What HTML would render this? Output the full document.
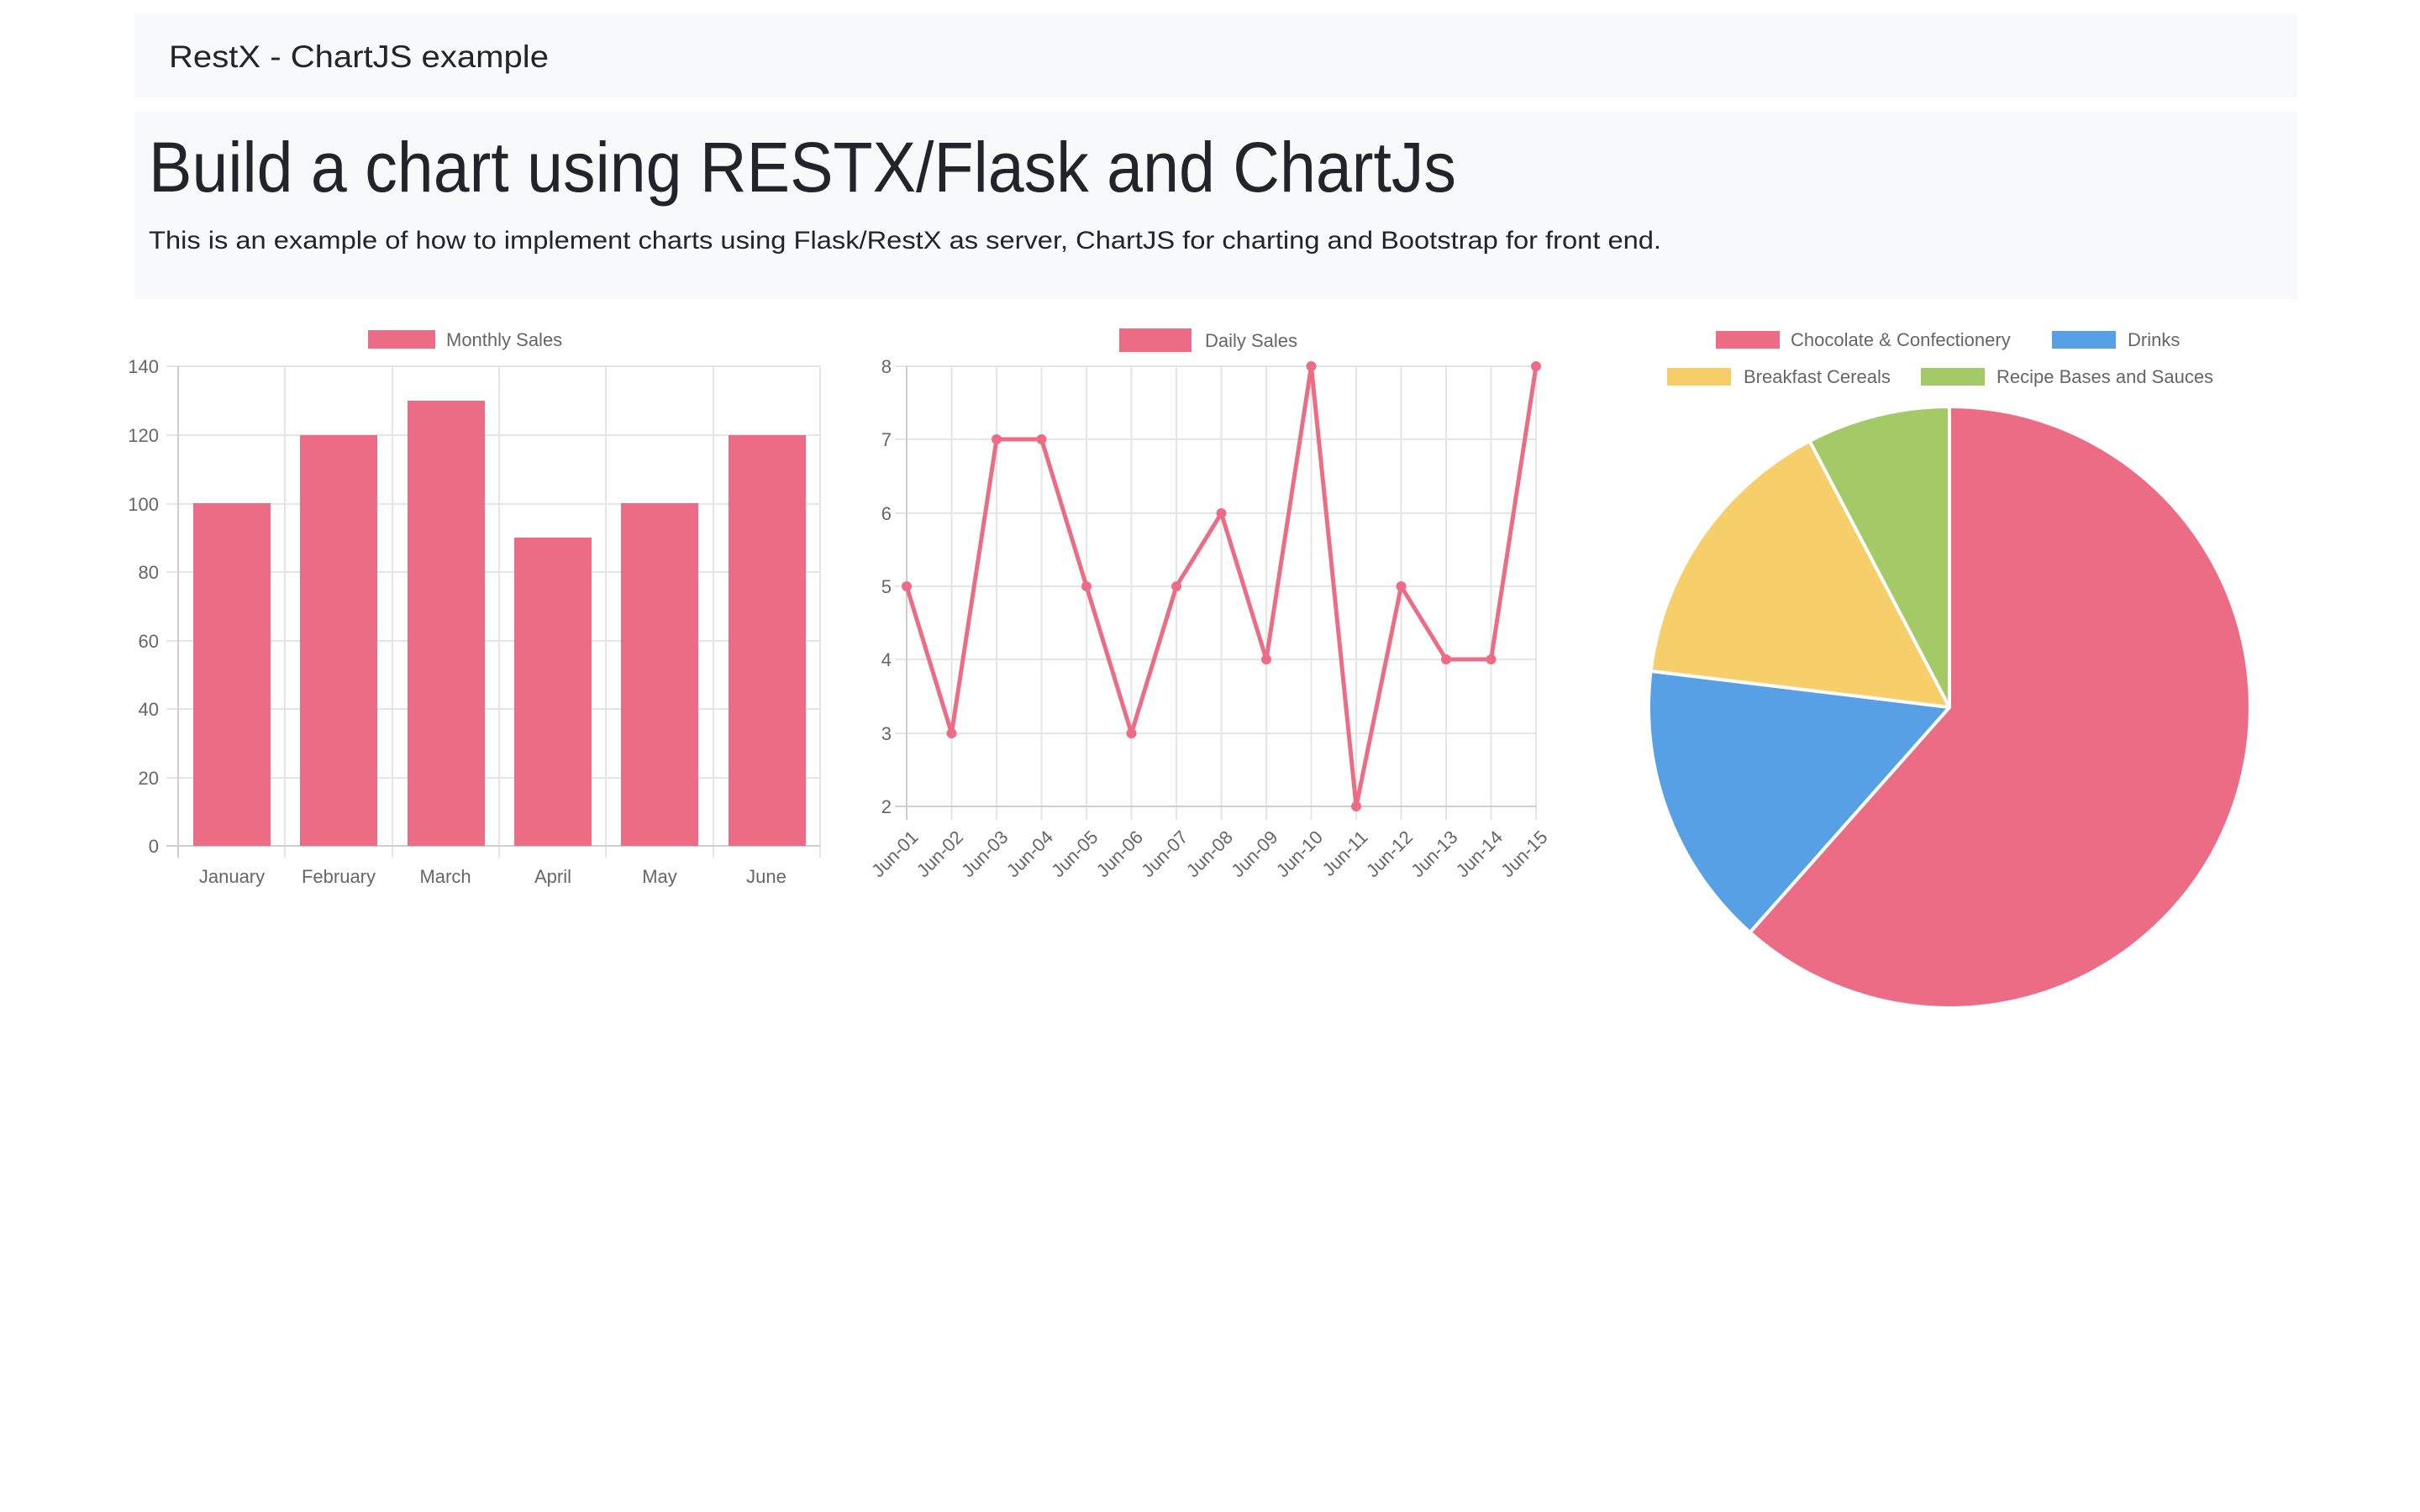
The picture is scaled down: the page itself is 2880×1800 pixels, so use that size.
<!DOCTYPE html>
<html><head><meta charset="utf-8"><style>
html,body{margin:0;padding:0;background:#fff;width:2880px;height:1800px;overflow:hidden}
svg{display:block}
text{font-family:"Liberation Sans",sans-serif}
</style></head><body>
<svg width="2880" height="1800" viewBox="0 0 2880 1800" xmlns="http://www.w3.org/2000/svg">
<rect x="160" y="16" width="2574" height="100" fill="#f8f9fa"/>
<text x="201" y="80" font-size="37" fill="#212529" textLength="452" lengthAdjust="spacingAndGlyphs">RestX - ChartJS example</text>
<rect x="160" y="133" width="2574" height="223" fill="#f8f9fa"/>
<text x="177" y="228" font-size="84" fill="#212529" textLength="1556" lengthAdjust="spacingAndGlyphs">Build a chart using RESTX/Flask and ChartJs</text>
<text x="177" y="296" font-size="30" fill="#212529" textLength="1800" lengthAdjust="spacingAndGlyphs">This is an example of how to implement charts using Flask/RestX as server, ChartJS for charting and Bootstrap for front end.</text>

<!-- Bar chart -->
<g stroke="#e5e5e5" stroke-width="2">
<line x1="198" y1="436" x2="976" y2="436"/><line x1="198" y1="518" x2="976" y2="518"/><line x1="198" y1="600" x2="976" y2="600"/><line x1="198" y1="681" x2="976" y2="681"/><line x1="198" y1="763" x2="976" y2="763"/><line x1="198" y1="844" x2="976" y2="844"/><line x1="198" y1="926" x2="976" y2="926"/>
<line x1="339" y1="436" x2="339" y2="1021"/><line x1="467" y1="436" x2="467" y2="1021"/><line x1="594" y1="436" x2="594" y2="1021"/><line x1="721" y1="436" x2="721" y2="1021"/><line x1="849" y1="436" x2="849" y2="1021"/><line x1="976" y1="436" x2="976" y2="1021"/>
</g>
<g stroke="#cfcfcf" stroke-width="2"><line x1="212" y1="436" x2="212" y2="1021"/><line x1="198" y1="1007" x2="976" y2="1007"/></g>
<g fill="#ed6c85">
<rect x="230" y="599" width="92" height="408"/>
<rect x="357" y="518" width="92" height="489"/>
<rect x="485" y="477" width="92" height="530"/>
<rect x="612" y="640" width="92" height="367"/>
<rect x="739" y="599" width="92" height="408"/>
<rect x="867" y="518" width="92" height="489"/>
</g>
<g font-size="22" fill="#666" text-anchor="end">
<text x="189" y="444">140</text><text x="189" y="526">120</text><text x="189" y="608">100</text><text x="189" y="689">80</text><text x="189" y="771">60</text><text x="189" y="852">40</text><text x="189" y="934">20</text><text x="189" y="1015">0</text>
</g>
<g font-size="22" fill="#666" text-anchor="middle">
<text x="276" y="1051">January</text><text x="403" y="1051">February</text><text x="530" y="1051">March</text><text x="658" y="1051">April</text><text x="785" y="1051">May</text><text x="912" y="1051">June</text>
</g>
<rect x="438" y="393" width="80" height="22" fill="#ed6c85"/>
<text x="531" y="412" font-size="22" fill="#666">Monthly Sales</text>

<!-- Line chart -->
<g stroke="#e5e5e5" stroke-width="2">
<line x1="1065" y1="436" x2="1828" y2="436"/><line x1="1065" y1="523" x2="1828" y2="523"/><line x1="1065" y1="611" x2="1828" y2="611"/><line x1="1065" y1="698" x2="1828" y2="698"/><line x1="1065" y1="785" x2="1828" y2="785"/><line x1="1065" y1="873" x2="1828" y2="873"/>
<line x1="1132.5" y1="436" x2="1132.5" y2="976"/><line x1="1186" y1="436" x2="1186" y2="976"/><line x1="1239.5" y1="436" x2="1239.5" y2="976"/><line x1="1293" y1="436" x2="1293" y2="976"/><line x1="1346.5" y1="436" x2="1346.5" y2="976"/><line x1="1400" y1="436" x2="1400" y2="976"/><line x1="1453.5" y1="436" x2="1453.5" y2="976"/><line x1="1507" y1="436" x2="1507" y2="976"/><line x1="1560.5" y1="436" x2="1560.5" y2="976"/><line x1="1614" y1="436" x2="1614" y2="976"/><line x1="1667.5" y1="436" x2="1667.5" y2="976"/><line x1="1721" y1="436" x2="1721" y2="976"/><line x1="1774.5" y1="436" x2="1774.5" y2="976"/><line x1="1828" y1="436" x2="1828" y2="976"/>
</g>
<g stroke="#cfcfcf" stroke-width="2"><line x1="1079" y1="436" x2="1079" y2="976"/><line x1="1065" y1="960" x2="1828" y2="960"/></g>
<polyline fill="none" stroke="#ed6c85" stroke-width="5" stroke-linejoin="round" points="1079,698 1132.5,873 1186,523 1239.5,523 1293,698 1346.5,873 1400,698 1453.5,611 1507,785 1560.5,436 1614,960 1667.5,698 1721,785 1774.5,785 1828,436"/>
<g fill="#ed6c85">
<circle cx="1079" cy="698" r="6"/><circle cx="1132.5" cy="873" r="6"/><circle cx="1186" cy="523" r="6"/><circle cx="1239.5" cy="523" r="6"/><circle cx="1293" cy="698" r="6"/><circle cx="1346.5" cy="873" r="6"/><circle cx="1400" cy="698" r="6"/><circle cx="1453.5" cy="611" r="6"/><circle cx="1507" cy="785" r="6"/><circle cx="1560.5" cy="436" r="6"/><circle cx="1614" cy="960" r="6"/><circle cx="1667.5" cy="698" r="6"/><circle cx="1721" cy="785" r="6"/><circle cx="1774.5" cy="785" r="6"/><circle cx="1828" cy="436" r="6"/>
</g>
<g font-size="22" fill="#666" text-anchor="end">
<text x="1061" y="444">8</text><text x="1061" y="531">7</text><text x="1061" y="619">6</text><text x="1061" y="706">5</text><text x="1061" y="793">4</text><text x="1061" y="881">3</text><text x="1061" y="968">2</text>
</g>
<g font-size="22" fill="#666" text-anchor="end">
<text transform="translate(1094,998) rotate(-45)">Jun-01</text>
<text transform="translate(1147.5,998) rotate(-45)">Jun-02</text>
<text transform="translate(1201,998) rotate(-45)">Jun-03</text>
<text transform="translate(1254.5,998) rotate(-45)">Jun-04</text>
<text transform="translate(1308,998) rotate(-45)">Jun-05</text>
<text transform="translate(1361.5,998) rotate(-45)">Jun-06</text>
<text transform="translate(1415,998) rotate(-45)">Jun-07</text>
<text transform="translate(1468.5,998) rotate(-45)">Jun-08</text>
<text transform="translate(1522,998) rotate(-45)">Jun-09</text>
<text transform="translate(1575.5,998) rotate(-45)">Jun-10</text>
<text transform="translate(1629,998) rotate(-45)">Jun-11</text>
<text transform="translate(1682.5,998) rotate(-45)">Jun-12</text>
<text transform="translate(1736,998) rotate(-45)">Jun-13</text>
<text transform="translate(1789.5,998) rotate(-45)">Jun-14</text>
<text transform="translate(1843,998) rotate(-45)">Jun-15</text>
</g>
<rect x="1332" y="391" width="86" height="28" fill="#ed6c85"/>
<text x="1434" y="413" font-size="22" fill="#666">Daily Sales</text>

<!-- Pie -->
<g stroke="#fff" stroke-width="4" stroke-linejoin="round">
<path d="M2320 842 L2320 484 A358 358 0 1 1 2082.6 1110 Z" fill="#ed6c85"/>
<path d="M2320 842 L2082.6 1110 A358 358 0 0 1 1964.6 798.9 Z" fill="#57a0e5"/>
<path d="M2320 842 L1964.6 798.9 A358 358 0 0 1 2153.6 525 Z" fill="#f6cf6b"/>
<path d="M2320 842 L2153.6 525 A358 358 0 0 1 2320 484 Z" fill="#a3ca67"/>
</g>
<g font-size="22" fill="#666">
<rect x="2042" y="394" width="76" height="21" fill="#ed6c85"/><text x="2131" y="412">Chocolate &amp; Confectionery</text>
<rect x="2442" y="394" width="76" height="21" fill="#57a0e5"/><text x="2532" y="412">Drinks</text>
<rect x="1984" y="438" width="76" height="21" fill="#f6cf6b"/><text x="2075" y="456">Breakfast Cereals</text>
<rect x="2286" y="438" width="76" height="21" fill="#a3ca67"/><text x="2376" y="456">Recipe Bases and Sauces</text>
</g>
</svg>
</body></html>
